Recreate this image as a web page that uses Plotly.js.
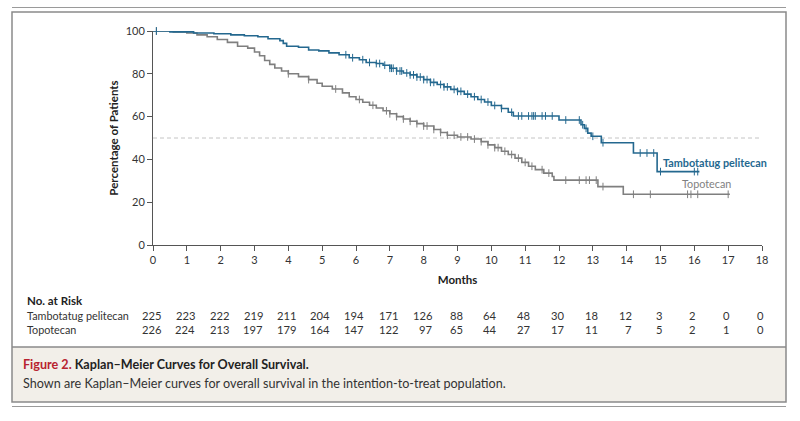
<!DOCTYPE html>
<html>
<head>
<meta charset="utf-8">
<script src="https://cdn.plot.ly/plotly-3.0.1.min.js"></script>
<style>
html,body{margin:0;padding:0;background:#fff;}
#chart{width:800px;height:421px;}
</style>
</head>
<body>
<div id="chart"></div>
<script>
// ---------------- DATA ----------------
const months = [0,1,2,3,4,5,6,7,8,9,10,11,12,13,14,15,16,17,18];
const riskTamb = [225,223,222,219,211,204,194,171,126,88,64,48,30,18,12,3,2,0,0];
const riskTopo = [226,224,213,197,179,164,147,122,97,65,44,27,17,11,7,5,2,1,0];

// Tambotatug pelitecan KM steps (time in months, survival %)
const tambTime = [0,0.5,1.2,1.8,2.3,2.7,3.1,3.4,3.75,3.85,3.95,4.3,4.6,4.9,5.2,5.5,5.8,6.1,6.3,6.6,6.8,7.0,7.2,7.4,7.6,7.8,8.0,8.2,8.4,8.6,8.8,9.0,9.2,9.4,9.6,9.8,10.0,10.3,10.5,10.65,12.0,12.65,12.75,12.85,12.95,13.25,14.2,14.9];
const tambSurv = [100,99.6,99.1,98.7,98.2,97.8,97.3,96.4,95.5,94.2,92.9,92.4,91.1,90.7,89.8,88.9,87.5,86.6,85.3,84.8,84.0,82.6,81.3,80.4,79.5,78.5,77.3,76.0,75.0,73.9,72.7,71.8,70.5,69.3,68.0,66.8,65.2,63.8,62.0,60.3,58.4,56.2,54.5,52.3,50.8,47.8,43.0,34.3];
const tambEnd = 16.15;
const tambCens = [0.1,5.7,5.9,6.2,6.4,6.6,6.7,6.85,7.0,7.05,7.1,7.2,7.3,7.35,7.5,7.6,7.7,7.8,7.9,8.0,8.1,8.2,8.3,8.5,8.6,8.7,8.9,9.0,9.1,9.3,9.5,9.7,9.9,10.1,10.3,10.6,10.8,10.9,11.1,11.2,11.25,11.3,11.5,11.6,11.8,12.2,12.6,12.7,12.8,13.0,13.3,14.4,14.6,14.8,15.0,16.0,16.1];

// Topotecan KM steps
const topoTime = [0,0.6,1.0,1.3,1.6,1.9,2.2,2.5,2.8,3.0,3.15,3.3,3.45,3.6,3.8,4.0,4.3,4.6,4.85,5.0,5.3,5.6,5.8,6.0,6.2,6.4,6.6,6.8,7.0,7.2,7.4,7.6,7.8,8.0,8.3,8.5,8.7,9.0,9.4,9.7,9.9,10.1,10.3,10.5,10.7,10.9,11.1,11.3,11.55,11.8,11.85,13.15,13.9];
const topoSurv = [100,99.6,99.1,98.2,97.3,96.0,94.7,92.9,92.0,90.2,88.4,86.2,84.4,82.7,81.3,80.0,78.7,77.3,75.6,74.2,72.9,71.1,69.3,68.0,66.7,65.3,64.0,62.7,61.3,60.0,58.9,57.8,56.7,55.6,54.0,52.6,51.3,50.5,49.5,48.3,46.8,45.5,43.8,42.3,40.6,38.6,36.8,35.2,33.6,32.0,30.3,27.3,23.7];
const topoEnd = 17.05;
const topoCens = [0.1,4.0,4.6,5.4,6.1,6.5,6.9,7.0,7.2,7.4,7.6,7.8,8.0,8.1,8.3,8.5,8.7,8.9,9.1,9.3,9.5,9.7,9.9,10.1,10.2,10.4,10.6,10.8,11.0,11.2,11.5,11.7,12.2,12.6,12.8,12.9,13.1,13.3,14.2,14.7,15.8,15.9,16.1,17.0];

const nameTamb = "Tambotatug pelitecan";
const nameTopo = "Topotecan";

// ---------------- STYLE ----------------
const BLUE = "#24688f";
const GRAY = "#7f7f7f";
const FONT = "Lato, 'Open Sans', sans-serif";

// plot area pixel geometry (for placing decorative items in paper coords)
const W = 800, H = 421;
const L = 153, R = 762, T = 31, B = 245;
const px = v => (v - L) / (R - L);
const py = v => (B - v) / (B - T);

function survAt(times, surv, t){
  let s = surv[0];
  for (let i = 0; i < times.length; i++){ if (times[i] <= t) s = surv[i]; }
  return s;
}

const traces = [];
function kmTraces(times, surv, end, cens, color, name){
  traces.push({
    x: times.concat([end]), y: surv.concat([surv[surv.length-1]]),
    type: "scatter", mode: "lines", line: {shape: "hv", color: color, width: 1.6},
    name: name, cliponaxis: false, hoverinfo: "skip"
  });
  traces.push({
    x: cens, y: cens.map(t => survAt(times, surv, t)),
    type: "scatter", mode: "markers",
    marker: {symbol: "line-ns-open", size: 5.5, color: color, line: {color: color, width: 1}},
    name: name + " censored", cliponaxis: false, hoverinfo: "skip"
  });
}
kmTraces(topoTime, topoSurv, topoEnd, topoCens, GRAY, nameTopo);
kmTraces(tambTime, tambSurv, tambEnd, tambCens, BLUE, nameTamb);

// ---------------- ANNOTATIONS ----------------
const ann = [];
// curve labels
ann.push({x: px(661), y: py(162), xref: "paper", yref: "paper", xanchor: "left", yanchor: "middle",
  text: "<b>" + nameTamb + "</b>", showarrow: false, font: {family: FONT, size: 10.8, color: BLUE}});
ann.push({x: px(680), y: py(183), xref: "paper", yref: "paper", xanchor: "left", yanchor: "middle",
  text: nameTopo, showarrow: false, font: {family: FONT, size: 10.8, color: GRAY}});

// at-risk table
ann.push({x: px(25), y: py(300), xref: "paper", yref: "paper", xanchor: "left", yanchor: "middle",
  text: "<b>No. at Risk</b>", showarrow: false, font: {family: FONT, size: 11.5, color: "#222"}});
ann.push({x: px(25), y: py(315), xref: "paper", yref: "paper", xanchor: "left", yanchor: "middle",
  text: nameTamb, showarrow: false, font: {family: FONT, size: 10.8, color: "#333"}});
ann.push({x: px(25), y: py(329), xref: "paper", yref: "paper", xanchor: "left", yanchor: "middle",
  text: nameTopo, showarrow: false, font: {family: FONT, size: 10.8, color: "#333"}});
const DIGIT = 6.0;
months.forEach((m, i) => {
  const w = Math.max(String(riskTamb[i]).length, String(riskTopo[i]).length);
  [[riskTamb[i], 315], [riskTopo[i], 329]].forEach(([v, yy]) => {
    ann.push({x: m, y: py(yy), xref: "x", yref: "paper", xanchor: "right", yanchor: "middle",
      xshift: w * DIGIT / 2 + 1, text: String(v), showarrow: false,
      font: {family: FONT, size: 11.2, color: "#333"}});
  });
});

// caption
ann.push({x: px(21), y: py(364), xref: "paper", yref: "paper", xanchor: "left", yanchor: "middle",
  text: "<b><span style='color:#b8232f'>Figure 2.</span> Kaplan–Meier Curves for Overall Survival.</b>",
  showarrow: false, font: {family: FONT, size: 12.6, color: "#222"}});
ann.push({x: px(21), y: py(383), xref: "paper", yref: "paper", xanchor: "left", yanchor: "middle",
  text: "Shown are Kaplan–Meier curves for overall survival in the intention-to-treat population.",
  showarrow: false, font: {family: FONT, size: 12.6, color: "#333"}});

// ---------------- SHAPES ----------------
const shapes = [
  // caption background
  {type: "rect", xref: "paper", yref: "paper", x0: px(12), x1: px(786), y0: py(347), y1: py(402),
    fillcolor: "#f2efe9", line: {width: 0}, layer: "below"},
  // frame
  {type: "rect", xref: "paper", yref: "paper", x0: px(12), x1: px(786), y0: py(12), y1: py(402),
    line: {color: "#8a8a8a", width: 1.5}, fillcolor: "rgba(0,0,0,0)"},
  {type: "line", xref: "paper", yref: "paper", x0: px(12), x1: px(786), y0: py(347), y1: py(347),
    line: {color: "#8a8a8a", width: 1.5}},
  {type: "line", xref: "paper", yref: "paper", x0: px(12), x1: px(786), y0: py(7.5), y1: py(7.5),
    line: {color: "#9a9a9a", width: 1.2}},
  {type: "line", xref: "paper", yref: "paper", x0: px(12), x1: px(786), y0: py(406.5), y1: py(406.5),
    line: {color: "#9a9a9a", width: 1.2}},
  // median reference line
  {type: "line", xref: "x", yref: "y", x0: 0, x1: 18, y0: 50, y1: 50,
    line: {color: "#c4c4c4", width: 1, dash: "4px,3px"}, layer: "below"}
];

const layout = {
  width: W, height: H,
  margin: {l: L, r: W - R, t: T, b: H - B, pad: 0},
  paper_bgcolor: "#fff", plot_bgcolor: "#fff",
  showlegend: false,
  font: {family: FONT, size: 11, color: "#333"},
  xaxis: {
    range: [0, 18], tickvals: months, ticktext: months.map(String),
    showgrid: false, zeroline: false, showline: true, linecolor: "#555", linewidth: 1,
    ticks: "outside", ticklen: 5, tickcolor: "#555", tickfont: {family: FONT, size: 11, color: "#333"},
    title: {text: "<b>Months</b>", font: {family: FONT, size: 11.5, color: "#222"}, standoff: 10},
    fixedrange: true
  },
  yaxis: {
    range: [0, 100], tickvals: [0,20,40,60,80,100],
    showgrid: false, zeroline: false, showline: true, linecolor: "#555", linewidth: 1,
    ticks: "outside", ticklen: 5, tickcolor: "#555", tickfont: {family: FONT, size: 11, color: "#333"},
    title: {text: "<b>Percentage of Patients</b>", font: {family: FONT, size: 11.5, color: "#222"}, standoff: 4},
    fixedrange: true
  },
  annotations: ann,
  shapes: shapes
};

Plotly.newPlot("chart", traces, layout, {displayModeBar: false, staticPlot: true});
</script>
</body>
</html>
